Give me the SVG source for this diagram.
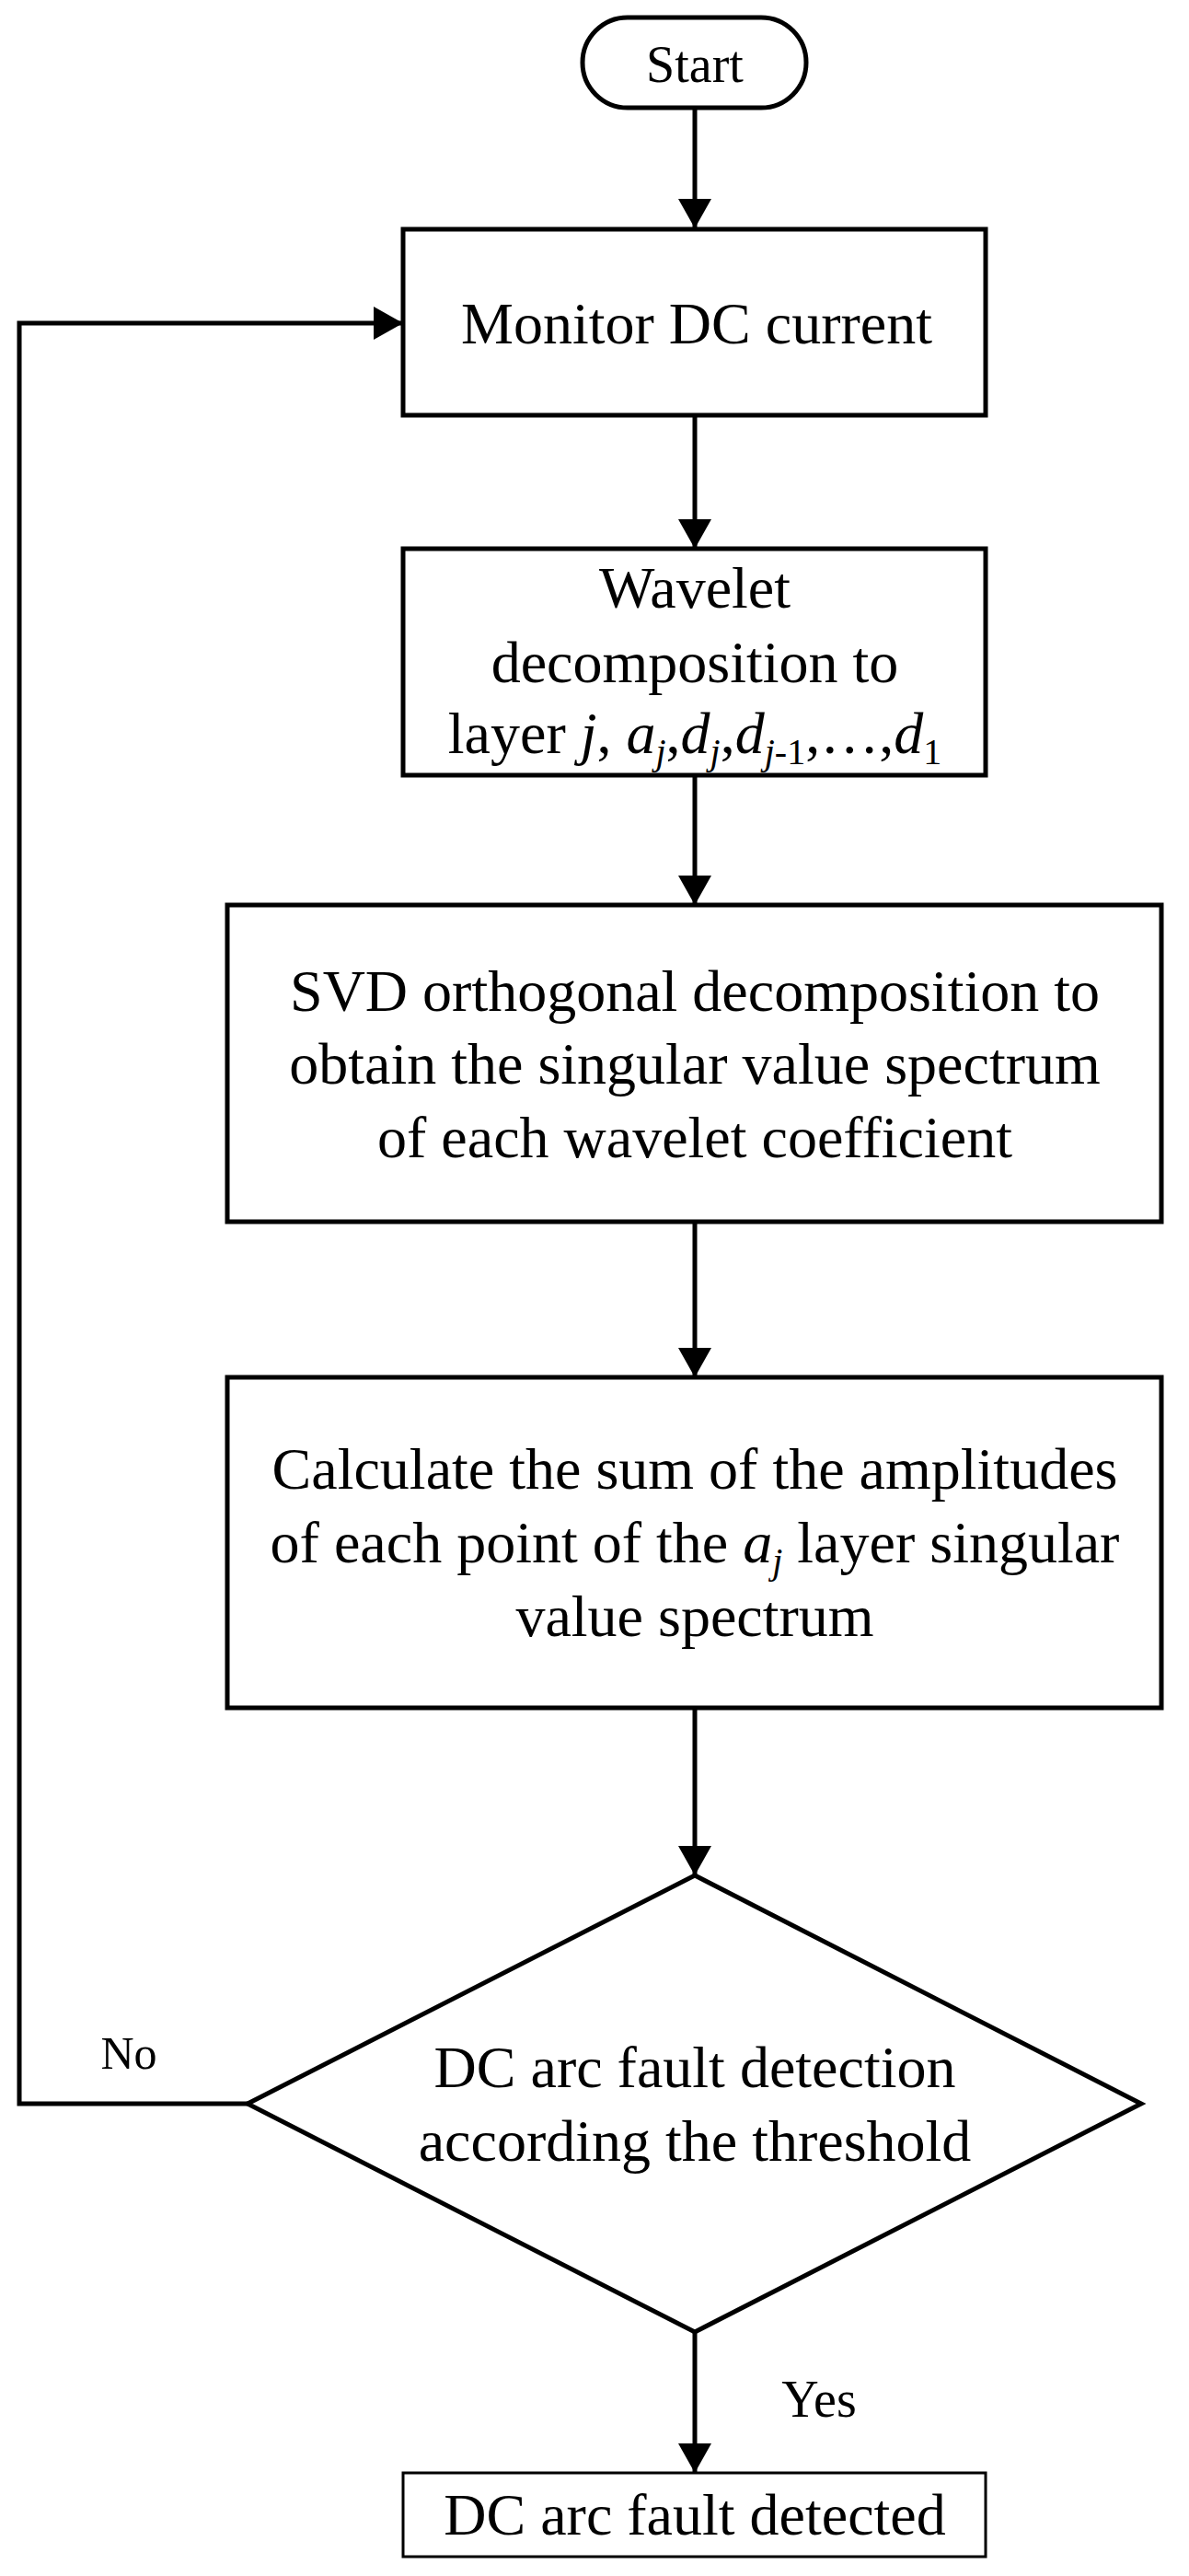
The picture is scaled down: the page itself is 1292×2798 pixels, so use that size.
<svg xmlns="http://www.w3.org/2000/svg" width="1292" height="2798" viewBox="0 0 1292 2798">
<style>
.s{fill:none;stroke:#000;stroke-width:5}
.t{font-family:"Liberation Serif","Times New Roman",serif;font-size:64px;text-anchor:middle;fill:#000}
.i{font-style:italic}
.sub{font-size:40px}
</style>
<defs>
<marker id="a" markerUnits="userSpaceOnUse" markerWidth="32" markerHeight="36" refX="32" refY="18" orient="auto">
<path d="M0,0 L32,18 L0,36 Z" fill="#000"/>
</marker>
</defs>
<rect width="1292" height="2798" fill="#fff"/>
<g id="connectors">
<path class="s" d="M755,118 V248" marker-end="url(#a)"/>
<path class="s" d="M755,451 V596" marker-end="url(#a)"/>
<path class="s" d="M755,842 V983" marker-end="url(#a)"/>
<path class="s" d="M755,1327 V1496" marker-end="url(#a)"/>
<path class="s" d="M755,1855 V2037" marker-end="url(#a)"/>
<path class="s" d="M755,2533 V2686" marker-end="url(#a)"/>
<path class="s" d="M269,2285 H21 V351 H438" marker-end="url(#a)"/>
<text class="t" x="140" y="2247" style="font-size:50px">No</text>
<text class="t" x="890" y="2625" style="font-size:56px">Yes</text>
</g>
<g id="start">
<rect class="s" x="633" y="19" width="243" height="98" rx="49"/>
<text class="t" x="755" y="89" style="font-size:56px">Start</text>
</g>
<g id="monitor">
<rect class="s" x="438" y="249" width="633" height="202"/>
<text class="t" x="757" y="373">Monitor DC current</text>
</g>
<g id="wavelet">
<rect class="s" x="438" y="596" width="633" height="246"/>
<text class="t" x="755" y="660">Wavelet</text>
<text class="t" x="755" y="741">decomposition to</text>
<text class="t" x="755" y="818">layer <tspan class="i">j</tspan>, <tspan class="i">a</tspan><tspan class="i sub" dy="12">j</tspan><tspan dy="-12">,</tspan><tspan class="i">d</tspan><tspan class="i sub" dy="12">j</tspan><tspan dy="-12">,</tspan><tspan class="i">d</tspan><tspan class="sub" dy="12"><tspan class="i">j</tspan>-1</tspan><tspan dy="-12">,…,</tspan><tspan class="i">d</tspan><tspan class="sub" dy="12">1</tspan></text>
</g>
<g id="svd">
<rect class="s" x="247" y="983" width="1015" height="344"/>
<text class="t" x="755" y="1098">SVD orthogonal decomposition to</text>
<text class="t" x="755" y="1177">obtain the singular value spectrum</text>
<text class="t" x="755" y="1257">of each wavelet coefficient</text>
</g>
<g id="calc">
<rect class="s" x="247" y="1496" width="1015" height="359"/>
<text class="t" x="755" y="1617">Calculate the sum of the amplitudes</text>
<text class="t" x="755" y="1697">of each point of the <tspan class="i">a</tspan><tspan class="i sub" dy="12">j</tspan><tspan dy="-12"> layer singular</tspan></text>
<text class="t" x="755" y="1777">value spectrum</text>
</g>
<g id="decision">
<path class="s" d="M755,2037 L1240,2285 L755,2533 L269,2285 Z"/>
<text class="t" x="755" y="2267">DC arc fault detection</text>
<text class="t" x="755" y="2347">according the threshold</text>
</g>
<g id="detected">
<rect x="438" y="2686" width="633" height="91" fill="none" stroke="#000" stroke-width="3"/>
<text class="t" x="755" y="2753">DC arc fault detected</text>
</g>
</svg>
